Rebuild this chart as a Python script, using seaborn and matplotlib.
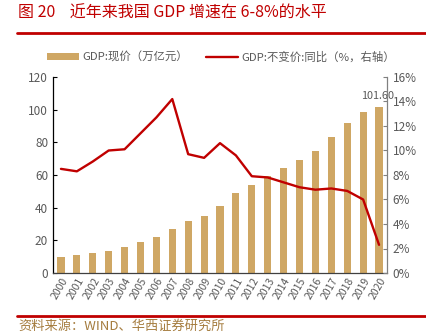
import numpy as np
import pandas as pd
import matplotlib
matplotlib.use("Agg")
import matplotlib.pyplot as plt
from matplotlib.ticker import FuncFormatter, FixedLocator
from matplotlib.patches import Patch
from matplotlib.lines import Line2D
import seaborn as sns

years = [str(y) for y in range(2000, 2021)]
gdp = [10.0, 11.1, 12.2, 13.7, 16.2, 18.7, 21.9, 27.0, 31.9, 34.9, 41.2,
       48.8, 53.9, 59.3, 64.4, 68.9, 74.6, 83.2, 91.9, 98.7, 101.6]
growth = [8.5, 8.3, 9.1, 10.0, 10.1, 11.4, 12.7, 14.2, 9.7, 9.4, 10.6,
          9.6, 7.9, 7.8, 7.4, 7.0, 6.8, 6.9, 6.7, 6.0, 2.3]
label_bar = "GDP:现价（万亿元）"
label_line = "GDP:不变价:同比（%，右轴）"
title = "图 20    近年来我国 GDP 增速在 6-8%的水平"
source = "资料来源：WIND、华西证券研究所"

sns.set_style("white")
plt.rcParams['font.family'] = ['Noto Sans CJK SC', 'DejaVu Sans']

BAR = "#CFA764"
RED = "#C00000"
GRAY = "#595959"

df = pd.DataFrame({"year": years, "gdp": gdp, "growth": growth})

fig = plt.figure(figsize=(4.27, 3.34), dpi=100)
ax = fig.add_axes([53/427, 1-273/334, (387-53)/427, (273-77)/334])
sns.barplot(data=df, x="year", y="gdp", color=BAR, width=0.45, ax=ax,
            saturation=1, edgecolor="none")
ax.set_xlim(-0.5, len(years) - 0.5)
ax.set_ylim(0, 120)
ax.set_yticks(np.arange(0, 121, 20))
ax.set_xlabel("")
ax.set_ylabel("")
ax.tick_params(axis="x", which="major", length=0, labelsize=7.5, labelcolor=GRAY, pad=2)
ax.set_xticks(range(len(years)))
ax.set_xticklabels(years, rotation=60, ha="right", rotation_mode="anchor")
ax.xaxis.set_minor_locator(FixedLocator(np.arange(0.5, len(years) - 0.5, 1)))
ax.tick_params(axis="x", which="minor", length=3, direction="in", color="black", width=0.8)
ax.tick_params(axis="y", length=3, direction="in", color="black", labelsize=8.5,
               labelcolor=GRAY, width=0.8)
for s in ["top", "right"]:
    ax.spines[s].set_visible(False)
ax.spines["left"].set_color("black")
ax.spines["bottom"].set_color("#404040")
ax.spines["left"].set_linewidth(0.9)
ax.spines["bottom"].set_linewidth(0.9)

ax.annotate(f"{gdp[-1]:.2f}", xy=(len(years) - 1, gdp[-1]), xytext=(-1, 8),
            textcoords="offset points", ha="center", va="center",
            fontsize=7.8, color=GRAY)

ax2 = ax.twinx()
sns.lineplot(x=np.arange(len(years)), y=growth, ax=ax2, color=RED, linewidth=1.7)
ax2.set_ylim(0, 16)
ax2.set_yticks(np.arange(0, 17, 2))
ax2.yaxis.set_major_formatter(FuncFormatter(lambda v, p: f"{v:.0f}%"))
ax2.tick_params(axis="y", length=3, direction="in", color="#808080", labelsize=8.5,
                labelcolor=GRAY, width=0.8, pad=4)
for s in ["top", "left", "bottom"]:
    ax2.spines[s].set_visible(False)
ax2.spines["right"].set_color("#808080")
ax2.spines["right"].set_linewidth(0.9)
ax2.set_xlim(-0.5, len(years) - 0.5)

handles = [Patch(facecolor=BAR, edgecolor="none"),
           Line2D([0], [0], color=RED, linewidth=1.7)]
leg = fig.legend(handles, [label_bar, label_line], loc="center",
                 bbox_to_anchor=(0.518, 1-57/334), ncol=2, frameon=False,
                 fontsize=8.2, handlelength=2.8, handleheight=0.5,
                 columnspacing=1.6, handletextpad=0.3)
for t in leg.get_texts():
    t.set_color(GRAY)

fig.text(18/427, 1-13/334, title, color=RED, fontsize=11.5, va="center", ha="left")
fig.add_artist(Line2D([17/427, 1.0], [1-33/334, 1-33/334], color=RED, linewidth=2))
fig.add_artist(Line2D([17/427, 1.0], [1-316/334, 1-316/334], color=RED, linewidth=2))
fig.text(18/427, 1-326/334, source, color="#A57C3E", fontsize=9.5, va="center", ha="left")

fig.savefig("out.png", dpi=100)
